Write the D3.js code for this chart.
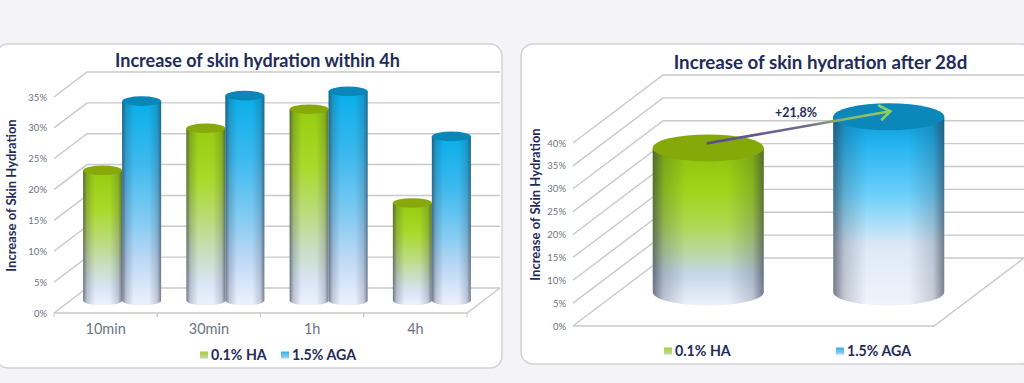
<!DOCTYPE html>
<html>
<head>
<meta charset="utf-8">
<script src="https://cdn.jsdelivr.net/npm/d3@7"></script>
<style>
  html, body { margin: 0; padding: 0; background: #f4f4f6; overflow: hidden; }
  text { font-family: Lato, "Open Sans", sans-serif; }
</style>
</head>
<body>
<div id="content"></div>
<script>
// values (percent)
const timePoints = ["10min", "30min", "1h", "4h"];
const ha4h = [21.1, 27.9, 31.0, 15.8];
const aga4h = [32.3, 33.2, 33.9, 26.6];

const products = ["0.1% HA", "1.5% AGA"];
const values28d = [31.5, 38.3];

const ticks4h = [0, 5, 10, 15, 20, 25, 30, 35];
const ticks28d = [0, 5, 10, 15, 20, 25, 30, 35, 40];
const gainLabel = "+21,8%";

const navy = "#1f2c58";
const gridColor = "#c9c9cc";
const tickColor = "#6d7480";

const svg = d3
  .select("#content")
  .append("svg")
  .attr("width", 1024)
  .attr("height", 383)
  .style("display", "block");

const defs = svg.append("defs");

function addGradient(id, stops, horizontal) {
  const g = defs
    .append("linearGradient")
    .attr("id", id)
    .attr("x1", 0)
    .attr("y1", 0)
    .attr("x2", horizontal ? 1 : 0)
    .attr("y2", horizontal ? 0 : 1);
  stops.forEach(([o, c, a]) => {
    g.append("stop")
      .attr("offset", o)
      .attr("stop-color", c)
      .attr("stop-opacity", a === undefined ? 1 : a);
  });
}

addGradient("greenSmall", [
  [0, "#96cc0e"],
  [0.3, "#abd92c"],
  [0.55, "#bddc84"],
  [0.72, "#cadec6"],
  [0.88, "#d9e5f6"],
  [1, "#eef2fd"],
]);
addGradient("blueSmall", [
  [0, "#08aeea"],
  [0.3, "#3cb9ee"],
  [0.58, "#82cbf2"],
  [0.78, "#bdd8f5"],
  [1, "#eef1fd"],
]);
addGradient("greenBig", [
  [0, "#8dbf0c"],
  [0.25, "#9dd416"],
  [0.48, "#aed84e"],
  [0.66, "#bad8a0"],
  [0.8, "#c4d6e8"],
  [1, "#eef1fc"],
]);
addGradient("blueBig", [
  [0, "#0c9ad4"],
  [0.14, "#22b2ee"],
  [0.42, "#6ed0fa"],
  [0.68, "#dbe9f6"],
  [1, "#f2f3fb"],
]);
addGradient(
  "edgeShade",
  [
    [0, "#2b3346", 0.62],
    [0.1, "#2b3346", 0.22],
    [0.3, "#2b3346", 0],
    [0.68, "#2b3346", 0],
    [0.9, "#2b3346", 0.2],
    [1, "#2b3346", 0.6],
  ],
  true,
);
addGradient("swatchGreen", [
  [0, "#a4cf3a"],
  [1, "#c4d8b0"],
]);
addGradient("swatchBlue", [
  [0, "#2fb2e8"],
  [1, "#a8d0ee"],
]);
defs
  .append("linearGradient")
  .attr("id", "gainLine")
  .attr("gradientUnits", "userSpaceOnUse")
  .attr("x1", 707)
  .attr("x2", 890)
  .attr("y1", 0)
  .attr("y2", 0)
  .selectAll("stop")
  .data([
    [0, "#5b4a8e"],
    [0.55, "#6f6a8a"],
    [0.72, "#8fb06c"],
    [1, "#8fcf5e"],
  ])
  .enter()
  .append("stop")
  .attr("offset", (d) => d[0])
  .attr("stop-color", (d) => d[1]);

function drawPanel(x, y, w, h) {
  svg
    .append("rect")
    .attr("x", x)
    .attr("y", y)
    .attr("width", w)
    .attr("height", h)
    .attr("rx", 12)
    .attr("fill", "#fff")
    .attr("stroke", "#d2d2d6")
    .attr("stroke-width", 1.5);
}

// floor, walls and gridlines of the fake 3d box
function drawBox(g, x0, x1, y, ticks, dx, dy) {
  const grid = g.append("g").attr("fill", "none").attr("stroke", gridColor).attr("stroke-width", 1.4);
  ticks.forEach((t) => {
    grid
      .append("path")
      .attr("d", `M${x0},${y(t)}L${x0 + dx},${y(t) + dy}L${x1 + dx},${y(t) + dy}`);
  });
  grid
    .append("path")
    .attr("d", `M${x0},${y(0)}L${x1},${y(0)}L${x1 + dx},${y(0) + dy}`);
}

function drawCylinder(g, cx, yTop, yBase, rx, ry, fill, topFill) {
  const side = `M${cx - rx},${yTop}L${cx - rx},${yBase}A${rx},${ry} 0 0 0 ${cx + rx},${yBase}L${cx + rx},${yTop}Z`;
  g.append("path").attr("d", side).attr("fill", fill);
  g.append("path").attr("d", side).attr("fill", "url(#edgeShade)");
  g.append("ellipse")
    .attr("cx", cx)
    .attr("cy", yTop)
    .attr("rx", rx)
    .attr("ry", ry)
    .attr("fill", topFill);
}

function drawText(txt, x, y, size, weight, color, anchor) {
  return svg
    .append("text")
    .attr("x", x)
    .attr("y", y)
    .attr("dy", "0.35em")
    .attr("text-anchor", anchor || "middle")
    .attr("font-size", size)
    .attr("font-weight", weight)
    .attr("fill", color)
    .text(txt);
}

function drawYAxis(y, ticks, xPos) {
  const axis = svg
    .append("g")
    .attr("transform", `translate(${xPos},0)`)
    .call(
      d3
        .axisLeft(y)
        .tickValues(ticks)
        .tickSize(0)
        .tickPadding(0)
        .tickFormat((d) => d + "%"),
    );
  axis.select(".domain").remove();
  axis.selectAll("text").attr("font-size", 9.5).attr("fill", tickColor).style("font-family", "Lato");
}

function drawLegend(items) {
  items.forEach((d) => {
    svg
      .append("rect")
      .attr("x", d.x)
      .attr("y", d.y - 3.5)
      .attr("width", 8)
      .attr("height", 7)
      .attr("fill", d.fill);
    drawText(d.label, d.x + 11, d.y, 14.2, 700, navy, "start");
  });
}

// ---- left chart
drawPanel(-4, 44, 506, 324);

const x4h = d3.scaleBand().domain(timePoints).range([54, 467]);
const y4h = d3.scaleLinear().domain([0, 35]).range([313, 97]);
const inner = d3
  .scaleBand()
  .domain(products)
  .range([0, x4h.bandwidth()])
  .paddingInner(0)
  .paddingOuter(0.324);

const left = svg.append("g");
drawBox(left, 54, 467, y4h, ticks4h, 33, -25);

const xAxis = left
  .append("g")
  .attr("transform", `translate(0,${y4h(0)})`)
  .call(d3.axisBottom(x4h).tickSize(0).tickPadding(11));
xAxis.select(".domain").remove();
xAxis.selectAll("text").attr("font-size", 14.5).attr("fill", tickColor).style("font-family", "Lato");
x4h.domain().forEach((d) => {
  [x4h(d), x4h(d) + x4h.step()].forEach((px) => {
    left
      .append("line")
      .attr("x1", px)
      .attr("x2", px)
      .attr("y1", y4h(0))
      .attr("y2", y4h(0) + 4)
      .attr("stroke", gridColor);
  });
});

// bars sit halfway into the depth of the box
const midDepth4h = { dx: 16.5, dy: -12.5 };
timePoints.forEach((t, i) => {
  [
    [products[0], ha4h[i], "url(#greenSmall)", "#87a90b"],
    [products[1], aga4h[i], "url(#blueSmall)", "#0b86b8"],
  ].forEach(([p, v, fill, top]) => {
    const cx = x4h(t) + inner(p) + inner.bandwidth() / 2 + midDepth4h.dx;
    drawCylinder(left, cx, y4h(v) + midDepth4h.dy, y4h(0) + midDepth4h.dy, inner.bandwidth() / 2, 4.8, fill, top);
  });
});

drawYAxis(y4h, ticks4h, 47);
drawText("Increase of skin hydration within 4h", 257.5, 61, 18, 700, navy);
drawText("Increase of Skin Hydration", 0, 0, 13, 700, navy).attr("transform", "translate(11,195.5) rotate(-90)");
drawLegend([
  { x: 200, y: 355, label: products[0], fill: "url(#swatchGreen)" },
  { x: 281, y: 355, label: products[1], fill: "url(#swatchBlue)" },
]);

// ---- right chart
drawPanel(521, 44, 512, 320);

const x28d = d3.scaleBand().domain(products).range([573, 934]).paddingInner(0.385).paddingOuter(0.1925);
const y28d = d3.scaleLinear().domain([0, 40]).range([326, 143]);

const right = svg.append("g");
drawBox(right, 573, 934, y28d, ticks28d, 90, -68);

const midDepth28d = { dx: 45, dy: -34 };
products.forEach((p, i) => {
  const cx = x28d(p) + x28d.bandwidth() / 2 + midDepth28d.dx;
  drawCylinder(
    right,
    cx,
    y28d(values28d[i]) + midDepth28d.dy,
    y28d(0) + midDepth28d.dy,
    x28d.bandwidth() / 2,
    13.5,
    i === 0 ? "url(#greenBig)" : "url(#blueBig)",
    i === 0 ? "#86a90a" : "#0b87b9",
  );
});

// arrow from the HA top to the AGA top
const ax0 = x28d(products[0]) + x28d.bandwidth() / 2 + midDepth28d.dx - 1.5;
const ay0 = y28d(values28d[0]) + midDepth28d.dy - 4.5;
const ax1 = x28d(products[1]) + x28d.bandwidth() / 2 + midDepth28d.dx + 1.5;
const ay1 = y28d(values28d[1]) + midDepth28d.dy - 5.5;
right
  .append("path")
  .attr("d", `M${ax0},${ay0}L${ax1},${ay1}`)
  .attr("fill", "none")
  .attr("stroke", "url(#gainLine)")
  .attr("stroke-width", 2.6);
right
  .append("path")
  .attr("d", `M${ax1 - 12},${ay1 - 6}L${ax1},${ay1}L${ax1 - 9},${ay1 + 9}`)
  .attr("fill", "none")
  .attr("stroke", "#8fcf5e")
  .attr("stroke-width", 2.6);
drawText(gainLabel, 796, 113, 12.5, 700, navy);

drawYAxis(y28d, ticks28d, 566);
drawText("Increase of skin hydration after 28d", 820.5, 62, 18.7, 700, navy);
drawText("Increase of Skin Hydration", 0, 0, 13, 700, navy).attr("transform", "translate(535,204.5) rotate(-90)");
drawLegend([
  { x: 664, y: 351, label: products[0], fill: "url(#swatchGreen)" },
  { x: 836, y: 351, label: products[1], fill: "url(#swatchBlue)" },
]);
</script>
</body>
</html>
